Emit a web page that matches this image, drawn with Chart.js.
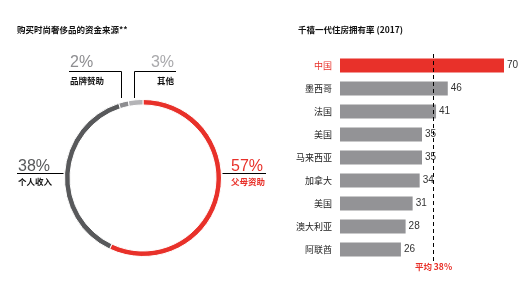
<!DOCTYPE html>
<html>
<head>
<meta charset="utf-8">
<script src="https://cdn.jsdelivr.net/npm/chart.js@4.4.1/dist/chart.umd.min.js"></script>
<style>
  body { margin: 0; background: #fff; }
  #wrap { position: relative; width: 532px; height: 284px; overflow: hidden; }
  #left { position: absolute; left: 0; top: 0; width: 270px; height: 284px; }
  #right { position: absolute; left: 270px; top: 0; width: 262px; height: 284px; }
</style>
</head>
<body>
<div id="wrap">
  <div id="left"><canvas id="donut" width="270" height="284"></canvas></div>
  <div id="right"><canvas id="bars" width="262" height="284"></canvas></div>
</div>
<script>
// --- datos: fuente de fondos (dona) ---
var fuenteLabels = ['父母资助', '个人收入', '品牌赞助', '其他'];
var fuenteValores = [57, 38, 2, 3];
var fuenteColores = ['#e8312a', '#58595b', '#8d8d90', '#b4b4b7'];

// --- datos: tasa de propiedad (barras) ---
var paises = ['中国', '墨西哥', '法国', '美国', '马来西亚', '加拿大', '美国', '澳大利亚', '阿联酋'];
var tasas = [70, 46, 41, 35, 35, 34, 31, 28, 26];
var promedioTexto = '平均 38%';
var promedioPos = 39.5; // donde esta dibujada la linea punteada

var rojo = '#e8312a';
var cjk = '"Noto Sans CJK SC", "Liberation Sans", sans-serif';
var num = '"Liberation Sans", Arial, sans-serif';

var etiquetasDona = {
  id: 'etiquetasDona',
  afterDraw: function (chart) {
    var ctx = chart.ctx;
    var arc = chart.getDatasetMeta(0).data[0];
    var cx = arc.x, cy = arc.y, r = arc.outerRadius;
    ctx.save();
    // titulo
    ctx.fillStyle = '#111';
    ctx.font = 'bold 8.5px ' + cjk;
    ctx.textAlign = 'left';
    ctx.textBaseline = 'alphabetic';
    ctx.fillText('购买时尚奢侈品的资金来源**', 17, 33);

    ctx.strokeStyle = '#000';
    ctx.lineWidth = 1;
    ctx.beginPath();
    // 38%
    ctx.moveTo(17, cy - 4.5); ctx.lineTo(cx - r - 1, cy - 4.5);
    // 57%
    ctx.moveTo(cx + r + 1, cy - 4.5); ctx.lineTo(266, cy - 4.5);
    // 2%
    ctx.moveTo(69, 71.5); ctx.lineTo(121.5, 71.5); ctx.lineTo(121.5, 98);
    // 3%
    ctx.moveTo(176, 71.5); ctx.lineTo(134.5, 71.5); ctx.lineTo(134.5, 98);
    ctx.stroke();

    // porcentajes
    ctx.font = '16px ' + num;
    ctx.fillStyle = fuenteColores[1];
    ctx.fillText(fuenteValores[1] + '%', 18, cy - 7);
    ctx.fillStyle = fuenteColores[0];
    ctx.fillText(fuenteValores[0] + '%', 231, cy - 7);
    ctx.fillStyle = fuenteColores[2];
    ctx.fillText(fuenteValores[2] + '%', 70, 67);
    ctx.fillStyle = '#a8a8ab';
    ctx.textAlign = 'right';
    ctx.fillText(fuenteValores[3] + '%', 174, 67);

    // nombres
    ctx.font = 'bold 8.5px ' + cjk;
    ctx.fillStyle = '#111';
    ctx.fillText(fuenteLabels[3], 174, 84);
    ctx.textAlign = 'left';
    ctx.fillText(fuenteLabels[2], 70, 84);
    ctx.fillText(fuenteLabels[1], 18, cy + 7);
    ctx.fillStyle = rojo;
    ctx.fillText(fuenteLabels[0], 231, cy + 7);
    ctx.restore();
  }
};

new Chart(document.getElementById('donut'), {
  type: 'doughnut',
  data: {
    labels: fuenteLabels,
    datasets: [{
      data: fuenteValores,
      backgroundColor: fuenteColores,
      borderColor: '#fff',
      borderWidth: 1
    }]
  },
  options: {
    responsive: false,
    animation: false,
    cutout: '93%',
    layout: { padding: { left: 64, right: 48, top: 99, bottom: 27 } },
    plugins: { legend: { display: false }, tooltip: { enabled: false } }
  },
  plugins: [etiquetasDona]
});

var extrasBarras = {
  id: 'extrasBarras',
  afterDatasetsDraw: function (chart) {
    var ctx = chart.ctx;
    var area = chart.chartArea;
    var meta = chart.getDatasetMeta(0);
    ctx.save();
    // titulo
    ctx.fillStyle = '#111';
    ctx.font = 'bold 8.5px ' + cjk;
    ctx.textAlign = 'left';
    ctx.fillText('千禧一代住房拥有率 (2017)', 28, 33);

    // valores
    ctx.font = '10px ' + num;
    ctx.fillStyle = '#333';
    ctx.textBaseline = 'middle';
    meta.data.forEach(function (bar, i) {
      ctx.fillText(String(tasas[i]), bar.x + 3, bar.y);
    });

    // linea de promedio
    var x = Math.round(chart.scales.x.getPixelForValue(promedioPos)) + 0.5;
    ctx.strokeStyle = '#000';
    ctx.lineWidth = 1;
    ctx.setLineDash([4, 3]);
    ctx.beginPath();
    ctx.moveTo(x, area.top);
    ctx.lineTo(x, area.bottom + 1);
    ctx.stroke();
    ctx.setLineDash([]);

    ctx.textBaseline = 'alphabetic';
    ctx.textAlign = 'center';
    ctx.fillStyle = rojo;
    ctx.font = 'bold 8.5px ' + cjk;
    ctx.fillText(promedioTexto, x, 270);
    ctx.restore();
  }
};

new Chart(document.getElementById('bars'), {
  type: 'bar',
  data: {
    labels: paises,
    datasets: [{
      data: tasas,
      backgroundColor: tasas.map(function (v, i) { return i === 0 ? rojo : '#939396'; }),
      categoryPercentage: 1,
      barPercentage: 0.6
    }]
  },
  options: {
    indexAxis: 'y',
    responsive: false,
    animation: false,
    layout: { padding: { top: 54, bottom: 23, right: 28, left: 0 } },
    scales: {
      x: { min: 0, max: 70, display: false },
      y: {
        grid: { display: false, drawTicks: false },
        border: { display: false },
        ticks: {
          padding: 8,
          font: { family: cjk, size: 9 },
          color: function (c) { return c.index === 0 ? rojo : '#222'; }
        },
        afterFit: function (s) { s.width = 70; }
      }
    },
    plugins: { legend: { display: false }, tooltip: { enabled: false } }
  },
  plugins: [extrasBarras]
});
</script>
</body>
</html>
